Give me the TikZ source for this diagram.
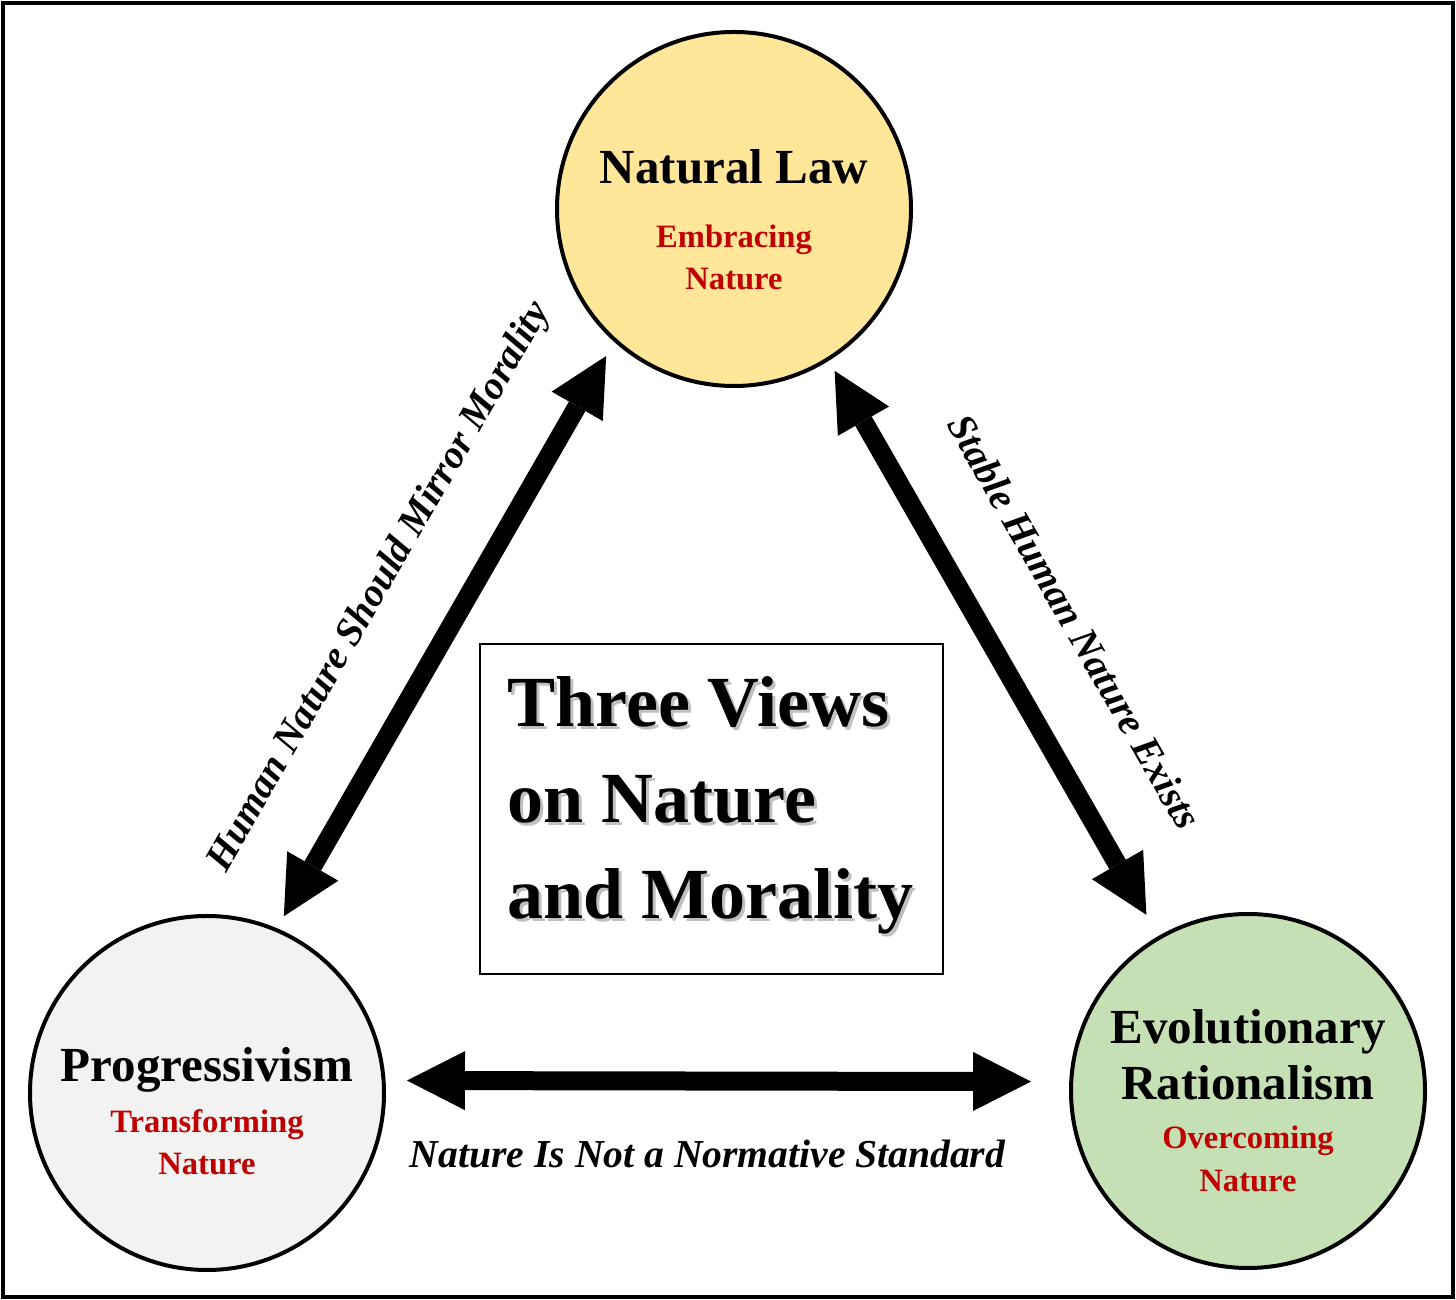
\documentclass[tikz,border=0pt]{standalone}
\usepackage{fontspec}
\setmainfont{Liberation Serif}
\usetikzlibrary{arrows.meta, calc}

\definecolor{lawfill}{HTML}{FFE699}
\definecolor{progfill}{HTML}{F2F2F2}
\definecolor{evofill}{HTML}{C5E0B4}
\definecolor{subred}{HTML}{C00000}

\begin{document}
\begin{tikzpicture}[x=0.5pt,y=0.5pt,
        view/.style={circle, draw, line width=2pt, minimum size=177pt, inner sep=0pt},
        head/.style={anchor=base, inner sep=0pt, font=\fontsize{24.5}{29}\selectfont\bfseries},
        sub/.style={anchor=base, inner sep=0pt, text=subred, font=\fontsize{16.3}{20}\selectfont\bfseries},
        lbl/.style={inner sep=0pt, font=\fontsize{19.8}{24}\selectfont\bfseries\itshape},
        bigarrow/.style={line width=9.5pt,
                {Triangle[length=29pt, width=29.5pt, line width=0pt]}-{Triangle[length=29pt, width=29.5pt, line width=0pt]}},
        titletxt/.style={anchor=west, inner sep=0pt, align=left, font=\fontsize{36}{48}\selectfont\bfseries}]
        \useasboundingbox (0,0) rectangle (1456,1300);
        \draw[line width=2pt] (3,3) rectangle (1453,1297);

        \node[view, fill=lawfill] (nat) at (734,1091) {};
        \node[view, fill=progfill] (prog) at (207,207) {};
        \node[view, fill=evofill] (evo) at (1248,209) {};

        \node[head] (natT) at ($(nat)+(0,25)$) {Natural Law};
        \node[sub] (natS) at ($(nat)+(0,-38.7)$) {Embracing};
        \node[sub] (natN) at ($(nat)+(0,-80.3)$) {Nature};
        \node[head] (progT) at ($(prog)+(0,11.3)$) {Progressivism};
        \node[sub] (progS) at ($(prog)+(0,-39.7)$) {Transforming};
        \node[sub] (progN) at ($(prog)+(0,-82)$) {Nature};
        \node[head] (evoT) at ($(evo)+(0,47.7)$) {Evolutionary};
        \node[head] (evoR) at ($(evo)+(0,-9)$) {Rationalism};
        \node[sub] (evoS) at ($(evo)+(0,-57.3)$) {Overcoming};
        \node[sub] (evoN) at ($(evo)+(0,-100.7)$) {Nature};

        \node[draw, line width=1pt, minimum width=231.5pt, minimum height=165pt] (title) at (711.5,491) {};
        \node[titletxt, text=black!25] (titleS) at ($(title.west)+(31,0.5)$) {Three Views\\on Nature\\and Morality};
        \node[titletxt] (titleT) at ($(title.west)+(28,3.5)$) {Three Views\\on Nature\\and Morality};

        \draw[bigarrow, shorten <=10.7pt, shorten >=19.1pt] (prog.4) --
                node[lbl, pos=0.471, below=24.5pt] {Nature Is Not a Normative Standard} (evo.177);
        \draw[bigarrow, shorten <=6.9pt, shorten >=8.1pt] (prog.67) --
                node[lbl, pos=0.513, sloped, above=26.7pt] {Human Nature Should Mirror Morality} (nat.228);
        \draw[bigarrow, shorten <=5.8pt, shorten >=12.2pt] (nat.302) --
                node[lbl, pos=0.526, sloped, above=30pt] {Stable Human Nature Exists} (evo.120);
\end{tikzpicture}
\end{document}
